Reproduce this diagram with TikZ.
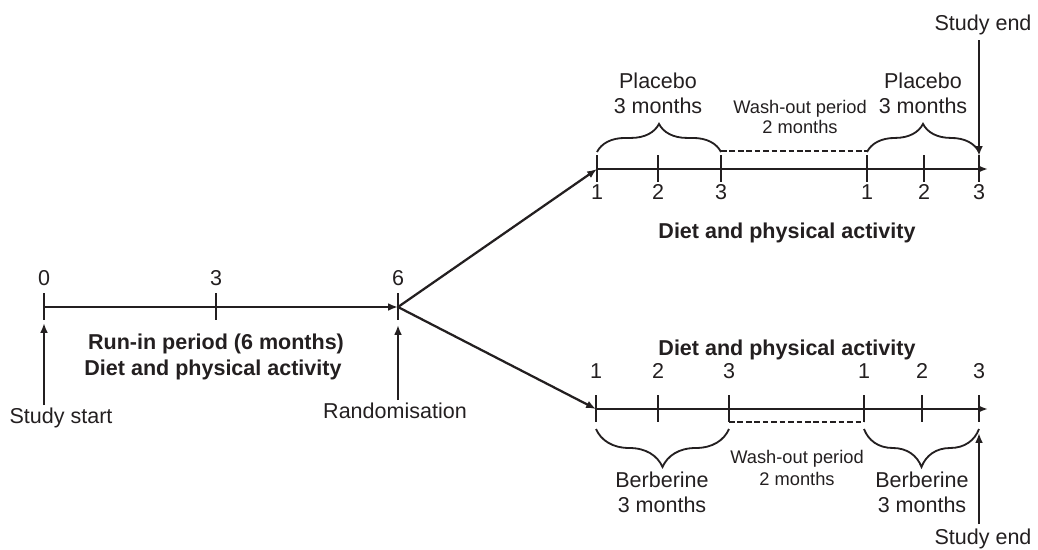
\documentclass[tikz,border=0pt]{standalone}
\usepackage{fontspec}
\setmainfont{Liberation Sans}
\usetikzlibrary{arrows.meta,decorations.pathreplacing,calc}
\definecolor{ink}{HTML}{231F20}
\begin{document}
\begin{tikzpicture}[x=0.025cm,y=-0.025cm,
  every node/.style={text=ink},
  font=\fontsize{15.3}{18}\selectfont,
  axis/.style={draw=ink,line width=1.6pt,-{Latex[length=7pt,width=5.5pt]}},
  tickmark/.style={draw=ink,line width=1.2pt},
  lbl/.style={anchor=base,inner sep=0pt},
  smalltxt/.style={font=\fontsize{13}{15}\selectfont},
  boldtxt/.style={font=\fontsize{15.3}{18}\selectfont\bfseries},
  curlyup/.style={draw=ink,decorate,decoration={brace,amplitude=#1},line width=1.3pt},
  curlyup/.default=20pt,
  curlydown/.style={draw=ink,decorate,decoration={brace,mirror,amplitude=#1},line width=1.3pt},
  curlydown/.default=27pt,
  washout/.style={draw=ink,line width=1.1pt,dash pattern=on 4pt off 2pt}
]
\useasboundingbox (0,0) rectangle (1038,549);

% ---- tick coordinates ----
\coordinate (L0) at (44,307);
\coordinate (L3) at (216,307);
\coordinate (L6) at (398,307);
\coordinate (T1) at (597,169);
\coordinate (T2) at (658,169);
\coordinate (T3) at (721,169);
\coordinate (T4) at (867,169);
\coordinate (T5) at (924,169);
\coordinate (T6) at (979,169);
\coordinate (Tend) at (988,169);
\coordinate (B1) at (596,409);
\coordinate (B2) at (658,409);
\coordinate (B3) at (729,409);
\coordinate (B4) at (864,409);
\coordinate (B5) at (922,409);
\coordinate (B6) at (979,409);
\coordinate (Bend) at (988,409);

% ---- ticks ----
\foreach \c in {L0,L3,L6,T1,T2,T3,T4,T5,T6,B1,B2,B3,B4,B5,B6}
  \draw[tickmark] ($(\c)+(0,-14)$) -- ($(\c)+(0,13)$);

% ---- axes ----
\draw[axis] (L0) -- (L6);
\draw[axis] (T1) -- (Tend);
\draw[axis] (B1) -- (Bend);
\draw[axis] (L6) -- (T1);
\draw[axis] (L6) -- (B1);

% ---- left labels ----
\node[lbl] (n0) at (44,285) {0};
\node[lbl] (n3) at (216,285) {3};
\node[lbl] (n6) at (398,285) {6};
\node[lbl,boldtxt] (runin) at (216,349) {Run-in period (6 months)};
\node[lbl,boldtxt] (dietL) at (213,375) {Diet and physical activity};
\node[lbl] (sstart) at (61,423) {Study start};
\node[lbl] (rand) at (395,418) {Randomisation};
\coordinate (ssA) at (44,405);
\coordinate (ssB) at (44,323);
\coordinate (rdA) at (398,400);
\coordinate (rdB) at (398,325);
\draw[axis] (ssA) -- (ssB);
\draw[axis] (rdA) -- (rdB);

% ---- top arm ----
\node[lbl] (t1) at (597,199) {1};
\node[lbl] (t2) at (658,199) {2};
\node[lbl] (t3) at (721,199) {3};
\node[lbl] (t4) at (867,199) {1};
\node[lbl] (t5) at (924,199) {2};
\node[lbl] (t6) at (979,199) {3};
\node[lbl,boldtxt] (dietT) at (787,238) {Diet and physical activity};
\draw[curlyup=20pt] ($(T1)+(0,-17)$) -- ($(T3)+(0,-17)$);
\draw[curlyup=20pt] ($(T4)+(0,-17)$) -- ($(T6)+(0,-17)$);
\draw[washout] ($(T3)+(0,-18)$) -- ($(T4)+(0,-18)$);
\node[lbl] (pl1) at (658,88) {Placebo};
\node[lbl] (pm1) at (658,113) {3 months};
\node[lbl] (pl2) at (923,88) {Placebo};
\node[lbl] (pm2) at (923,113) {3 months};
\node[lbl,smalltxt] (woT) at (800,113) {Wash-out period};
\node[lbl,smalltxt] (woT2) at (800,133) {2 months};
\node[lbl] (seT) at (983,30) {Study end};
\coordinate (seTA) at (979,40);
\coordinate (seTB) at (979,156);
\draw[axis] (seTA) -- (seTB);

% ---- bottom arm ----
\node[lbl] (b1) at (596,378) {1};
\node[lbl] (b2) at (658,378) {2};
\node[lbl] (b3) at (729,378) {3};
\node[lbl] (b4) at (864,378) {1};
\node[lbl] (b5) at (922,378) {2};
\node[lbl] (b6) at (979,378) {3};
\node[lbl,boldtxt] (dietB) at (787,355) {Diet and physical activity};
\draw[curlydown=27pt] ($(B1)+(0,20)$) -- ($(B3)+(0,20)$);
\draw[curlydown=27pt] ($(B4)+(0,20)$) -- ($(B6)+(0,20)$);
\draw[washout] ($(B3)+(0,13)$) -- ($(B4)+(0,13)$);
\node[lbl] (be1) at (662,487) {Berberine};
\node[lbl] (bm1) at (662,512) {3 months};
\node[lbl] (be2) at (922,487) {Berberine};
\node[lbl] (bm2) at (922,512) {3 months};
\node[lbl,smalltxt] (woB) at (797,463) {Wash-out period};
\node[lbl,smalltxt] (woB2) at (797,485) {2 months};
\node[lbl] (seB) at (983,544) {Study end};
\coordinate (seBA) at (979,524);
\coordinate (seBB) at (979,433);
\draw[axis] (seBA) -- (seBB);
\end{tikzpicture}
\end{document}
